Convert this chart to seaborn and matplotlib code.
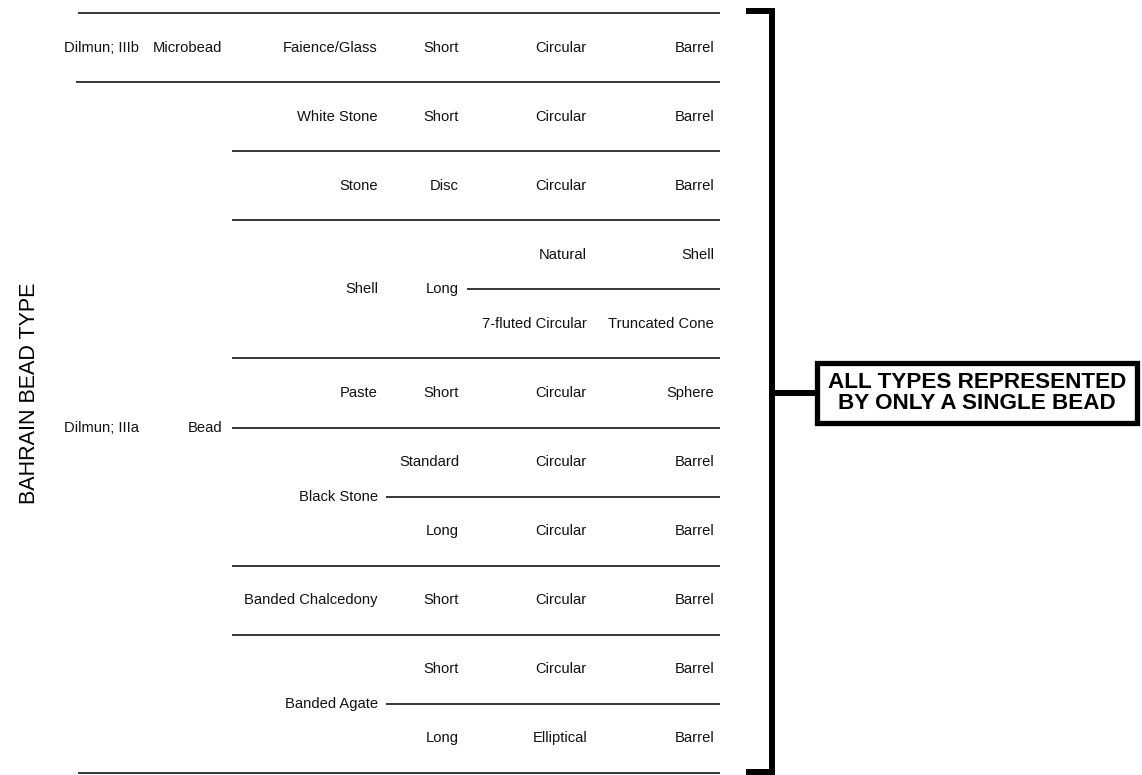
import matplotlib
matplotlib.use("Agg")
import matplotlib.pyplot as plt
import matplotlib.patches as mpatches
import pandas as pd
import seaborn as sns

# ── data: one row per bead type ──────────────────────────────────────────────
period = ["Dilmun; IIIb"] + ["Dilmun; IIIa"] * 10
form = ["Microbead"] + ["Bead"] * 10
material = ["Faience/Glass", "White Stone", "Stone", "Shell", "Shell", "Paste",
            "Black Stone", "Black Stone", "Banded Chalcedony",
            "Banded Agate", "Banded Agate"]
length = ["Short", "Short", "Disc", "Long", "Long", "Short",
          "Standard", "Long", "Short", "Short", "Long"]
section = ["Circular", "Circular", "Circular", "Natural", "7-fluted Circular",
           "Circular", "Circular", "Circular", "Circular", "Circular", "Elliptical"]
shape = ["Barrel", "Barrel", "Barrel", "Shell", "Truncated Cone", "Sphere",
         "Barrel", "Barrel", "Barrel", "Barrel", "Barrel"]

axis_title = "BAHRAIN BEAD TYPE"
note = "ALL TYPES REPRESENTED\nBY ONLY A SINGLE BEAD"

df = pd.DataFrame({"period": period, "form": form, "material": material,
                   "length": length, "section": section, "shape": shape})
cols = list(df.columns)

# ── layout (pixel x positions, rows on y) ─────────────────────────────────────
W, H = 1142, 775
TOP_PX, ROW_PX = 13, 69.09
anchor_x = {"period": 64, "form": 222, "material": 378,
            "length": 459, "section": 587, "shape": 714}
anchor_ha = {"period": "left"}
LINE_END = 720
GAP = 8
FS = 10.6

sns.set_theme(style="white")
plt.rcParams["font.family"] = ["Liberation Sans", "DejaVu Sans"]
plt.rcParams["text.color"] = "black"

fig = plt.figure(figsize=(W / 100, H / 100), dpi=100)
ax = fig.add_axes([0, 0, 1, 1])
ax.set_xlim(0, W)
ax.set_ylim(11 + (H - TOP_PX - 11 * ROW_PX) / ROW_PX, -TOP_PX / ROW_PX)
ax.axis("off")

n = len(df)
keys = [[tuple(df.iloc[r, :c + 1]) for r in range(n)] for c in range(len(cols))]

# merged labels per column
for c, col in enumerate(cols):
    start = 0
    for r in range(1, n + 1):
        if r == n or keys[c][r] != keys[c][start]:
            ax.text(anchor_x[col], (start + r) / 2, df[col][start],
                    ha=anchor_ha.get(col, "right"), va="center",
                    fontsize=FS, color="#111111")
            start = r

# separators: begin just after the label of the last shared column
ax.hlines([0, n], 78, LINE_END, color="black", lw=1.1)
for b in range(1, n):
    c = next(i for i in range(len(cols)) if keys[i][b] != keys[i][b - 1])
    x0 = 76 if c == 0 else anchor_x[cols[c - 1]] + GAP + (2 if c == 2 else 0)
    ax.hlines(b, x0, LINE_END, color="black", lw=1.1)

# bracket with note
y_top, y_bot = -0.03, n - 0.015
ax.plot([746, 772, 772, 746], [y_top, y_top, y_bot, y_bot],
        color="black", lw=4.3, solid_joinstyle="miter", solid_capstyle="butt")
ax.plot([772, 817], [n / 2, n / 2], color="black", lw=4.3, solid_capstyle="butt")
box_h = 0.86
ax.add_patch(mpatches.Rectangle((817, n / 2 - box_h / 2), 1137 - 817, box_h,
                                facecolor="white", edgecolor="black", lw=3.8))
ax.text((817 + 1137) / 2, n / 2, note, ha="center", va="center",
        fontsize=16.2, fontweight="bold", linespacing=0.95)

ax.text(30, n / 2, axis_title, rotation=90, ha="center", va="center",
        fontsize=15.5)

fig.savefig("out.png", dpi=100)
